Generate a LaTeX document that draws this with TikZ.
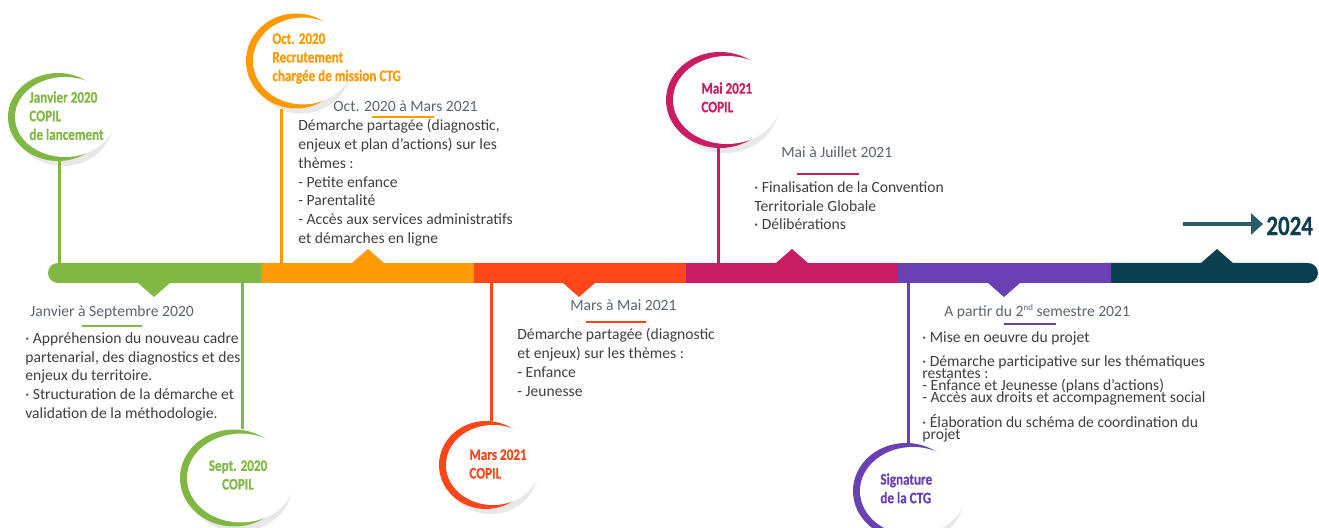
\documentclass[tikz,border=0pt]{standalone}
\usepackage{fontspec}
\setmainfont{Carlito}
\newfontfamily\labfont[FakeStretch=0.82, BoldFeatures={FakeBold=0.5}]{Carlito}
\usetikzlibrary{shapes.geometric,arrows.meta,shadows}
\definecolor{cgreen}{HTML}{80B843}
\definecolor{corange}{HTML}{FF9A00}
\definecolor{cred}{HTML}{FF451A}
\definecolor{cmag}{HTML}{C81D63}
\definecolor{cpurp}{HTML}{6A40B5}
\definecolor{cteal}{HTML}{0C3F4F}
\definecolor{carrow}{HTML}{265B68}
\definecolor{cgray}{HTML}{5B6470}
\definecolor{ctext}{HTML}{3F3F3F}
\tikzset{
  bubble/.style={ellipse, inner sep=0pt, fill=#1, drop shadow={fill=black!30, opacity=0.3, shadow xshift=2.5pt, shadow yshift=-2.5pt}},
  stem/.style={line width=1.5pt, draw=#1},
  lab/.style={font=\labfont\bfseries\fontsize{8}{9.3}\selectfont, align=left, inner sep=0pt, anchor=north west, text=#1},
  ttl/.style={font=\fontsize{7.8}{9.5}\selectfont, text=cgray, inner sep=0pt, anchor=north west},
  txt/.style={font=\fontsize{7.8}{9.4}\selectfont, text=ctext, align=left, inner sep=0pt, anchor=north west},
  tight/.style={font={\fontsize{7.8}{6}\selectfont\lineskiplimit-10pt\relax}},
  uline/.style={line width=1.2pt, draw=#1},
}
\begin{document}
\begin{tikzpicture}[x=0.5pt, y=-0.5pt]
\useasboundingbox (0,0) rectangle (1319,528);
% timeline bar
\fill[cgreen, rounded corners=5pt] (48,263) rectangle (275,283);
\fill[cteal, rounded corners=5pt] (1095,263) rectangle (1318,283);
\fill[corange] (261,263) rectangle (474,283);
\fill[cred] (474,263) rectangle (686,283);
\fill[cmag] (686,263) rectangle (898,283);
\fill[cpurp] (898,263) rectangle (1111,283);
% pointers
\fill[cgreen] (138,283) -- (154,297) -- (170,283) -- cycle;
\fill[corange] (352,263) -- (368,249) -- (384,263) -- cycle;
\fill[cred] (563,283) -- (579,297) -- (595,283) -- cycle;
\fill[cmag] (776,263) -- (792,249) -- (808,263) -- cycle;
\fill[cpurp] (988,283) -- (1004,297) -- (1020,283) -- cycle;
\fill[cteal] (1201,263) -- (1217,249) -- (1233,263) -- cycle;
\coordinate (p1) at (59,263);
\coordinate (p2) at (242,283);
\coordinate (p3) at (281,263);
\coordinate (p4) at (491,283);
\coordinate (p5) at (718,263);
\coordinate (p6) at (908,283);
% bubbles
\node[bubble=cgreen, minimum width=50pt, minimum height=44pt] (jan) at (58,117) {};
\fill[white] ([xshift=3.5pt]jan.center) ellipse [x radius=25pt, y radius=20pt];
\node[bubble=corange, minimum width=50pt, minimum height=47.5pt] (oct) at (296,61) {};
\fill[white] ([xshift=3.5pt]oct.center) ellipse [x radius=25pt, y radius=21.7pt];
\node[bubble=cgreen, minimum width=54pt, minimum height=48.5pt] (sept) at (234,478) {};
\fill[white] ([xshift=3.5pt]sept.center) ellipse [x radius=27pt, y radius=22.2pt];
\node[bubble=cred, minimum width=47pt, minimum height=44pt] (mars) at (486,465) {};
\fill[white] ([xshift=3.5pt]mars.center) ellipse [x radius=23.5pt, y radius=20pt];
\node[bubble=cmag, minimum width=54pt, minimum height=48pt] (mai) at (720,100) {};
\fill[white] ([xshift=3.5pt]mai.center) ellipse [x radius=27pt, y radius=22pt];
\node[bubble=cpurp, minimum width=53pt, minimum height=48pt] (sig) at (906,491) {};
\fill[white] ([xshift=3.5pt]sig.center) ellipse [x radius=26.5pt, y radius=22pt];
% stems
\draw[stem=cgreen] (jan.south -| p1) -- (p1);
\draw[stem=cgreen] (p2) -- (sept.north -| p2);
\draw[stem=corange] (oct.south -| p3) -- (p3);
\draw[stem=cred] (p4) -- (mars.north -| p4);
\draw[stem=cmag] (mai.south -| p5) -- (p5);
\draw[stem=cpurp] (p6) -- (sig.north -| p6);
% bubble labels
\node[lab=cgreen] (janlab) at (29,91) {Janvier 2020\\COPIL\\de lancement};
\node[lab=corange] (octlab) at (272,33) {Oct. 2020\\Recrutement\\chargée de mission CTG};
\node[lab=cgreen, align=center, anchor=north] (septlab) at (238,460) {Sept. 2020\\COPIL};
\node[lab=cred] (marslab) at (469,449) {Mars 2021\\COPIL};
\node[lab=cmag] (mailab) at (701,82) {Mai 2021\\COPIL};
\node[lab=cpurp] (siglab) at (880,473) {Signature\\de la CTG};
% periods
\node[ttl] (t1) at (30,305) {Janvier à Septembre 2020};
\draw[uline=cgreen] (82,326) -- (142,326);
\node[txt] (d1) at (25,332) {· Appréhension du nouveau cadre\\partenarial, des diagnostics et des\\enjeux du territoire.\\· Structuration de la démarche et\\validation de la méthodologie.};
\node[ttl] (t2) at (333,100) {Oct. 2020 à Mars 2021};
\draw[uline=corange] (372,117) -- (434,117);
\node[txt] (d2) at (298,119) {Démarche partagée (diagnostic,\\enjeux et plan d’actions) sur les\\thèmes :\\- Petite enfance\\- Parentalité\\- Accès aux services administratifs\\et démarches en ligne};
\node[ttl] (t3) at (570,299) {Mars à Mai 2021};
\draw[uline=cred] (586,322) -- (646,322);
\node[txt] (d3) at (517,328) {Démarche partagée (diagnostic\\et enjeux) sur les thèmes :\\- Enfance\\- Jeunesse};
\node[ttl] (t4) at (781,146) {Mai à Juillet 2021};
\draw[uline=cmag] (797,174) -- (859,174);
\node[txt] (d4) at (754,181) {· Finalisation de la Convention\\Territoriale Globale\\· Délibérations};
\node[ttl] (t5) at (944,304) {A partir du 2\raisebox{3pt}{\fontsize{4.5}{5}\selectfont nd} semestre 2021};
\draw[uline=cpurp] (1004,324) -- (1056,324);
\node[txt] (d5a) at (922,331) {· Mise en oeuvre du projet};
\node[txt, tight] (d5b) at (922,355) {· Démarche participative sur les thématiques\\restantes :\\- Enfance et Jeunesse (plans d’actions)\\- Accès aux droits et accompagnement social};
\node[txt, tight] (d5c) at (922,414) {· Élaboration du schéma de coordination du\\projet};
% 2024
\coordinate (arrstart) at (1183,224);
\node[font=\labfont\bfseries\fontsize{14}{14}\selectfont, text=cteal, inner sep=0pt, anchor=west] (yr) at (1266,226) {2024};
\draw[line width=2.2pt, draw=carrow, -{Triangle[length=6pt, width=10.5pt]}, shorten >=1.5pt] (arrstart) -- (arrstart -| yr.west);
\end{tikzpicture}
\end{document}
